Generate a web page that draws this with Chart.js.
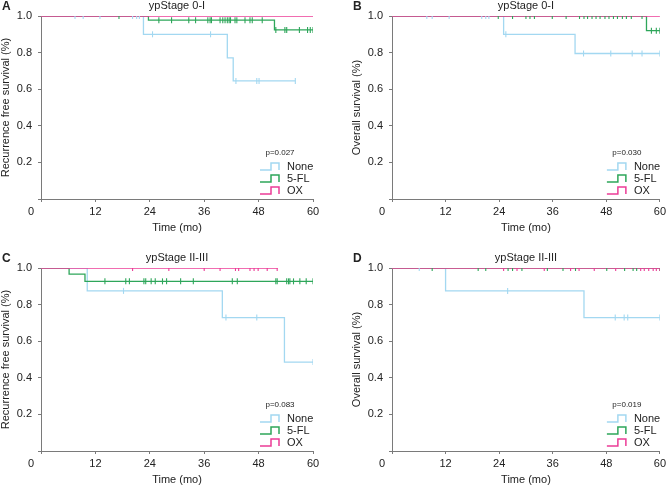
<!DOCTYPE html>
<html>
<head>
<meta charset="utf-8">
<script src="https://cdn.jsdelivr.net/npm/chart.js@4.4.1/dist/chart.umd.min.js"></script>
<style>
  html, body { margin: 0; padding: 0; background: #ffffff; }
  body { width: 669px; height: 487px; position: relative; overflow: hidden; }
  .panel { position: absolute; }
</style>
</head>
<body>
<div class="panel" style="left:0px;top:0px;"><canvas id="cA" width="340" height="235"></canvas></div>
<div class="panel" style="left:351px;top:0px;"><canvas id="cB" width="318" height="235"></canvas></div>
<div class="panel" style="left:0px;top:252px;"><canvas id="cC" width="340" height="235"></canvas></div>
<div class="panel" style="left:351px;top:252px;"><canvas id="cD" width="318" height="235"></canvas></div>
<script>
// ---------- tick labels / categories ----------
const xTicks = [0, 12, 24, 36, 48, 60];
const yTicks = [0, 0.2, 0.4, 0.6, 0.8, 1.0];
const groupNames = ['None', '5-FL', 'OX'];

// ---------- Panel A: ypStage 0-I, recurrence free survival ----------
const aNoneTime = [0, 22.6, 41.1, 42.4, 56.1];
const aNoneSurv = [1, 0.9, 0.771, 0.645, 0.645];
const aNoneCens = [7.5, 9.3, 13.0, 20.2, 21.1, 21.7, 24.6, 37.4, 43.0, 47.6, 48.1, 56.1];
const aFLTime = [0, 23.7, 51.5, 60];
const aFLSurv = [1, 0.977, 0.924, 0.924];
const aFLCens = [17.2, 26.0, 28.8, 32.6, 34.1, 36.8, 37.3, 37.6, 39.5, 40.1, 40.6, 41.1, 41.5, 41.8, 42.8, 43.2, 45.0, 46.1, 46.6, 48.8, 51.8, 53.8, 54.2, 57.0, 58.8, 59.4, 60];
const aOXTime = [0, 60];
const aOXSurv = [1, 1];
const aOXCens = [];
const aP = 'p=0.027';

// ---------- Panel B: ypStage 0-I, overall survival ----------
const bNoneTime = [0, 25.0, 41.0, 60];
const bNoneSurv = [1, 0.9, 0.795, 0.795];
const bNoneCens = [7.8, 9.0, 12.8, 20.1, 21.0, 21.7, 25.5, 42.9, 49.0, 53.8, 56.0, 60];
const bFLTime = [0, 57.0, 60];
const bFLSurv = [1, 0.92, 0.92];
const bFLCens = [23.8, 27.0, 30.0, 30.9, 31.9, 35.9, 39.0, 42.0, 43.0, 43.8, 44.8, 45.7, 46.6, 47.7, 48.6, 49.6, 50.5, 51.6, 52.5, 53.6, 56.0, 58.1, 59.2, 60];
const bOXTime = [0, 60];
const bOXSurv = [1, 1];
const bOXCens = [];
const bP = 'p=0.030';

// ---------- Panel C: ypStage II-III, recurrence free survival ----------
const cNoneTime = [0, 10.2, 40.0, 53.7, 60];
const cNoneSurv = [1, 0.875, 0.729, 0.486, 0.486];
const cNoneCens = [18.2, 40.8, 47.6, 60];
const cFLTime = [0, 6.2, 9.7, 60];
const cFLSurv = [1, 0.967, 0.927, 0.927];
const cFLCens = [14.1, 18.7, 19.5, 22.7, 23.1, 24.3, 25.2, 26.8, 27.7, 30.8, 33.6, 42.2, 43.3, 51.8, 52.1, 54.2, 54.6, 54.9, 55.7, 57.1, 58.5, 60];
const cOXTime = [0, 52.2];
const cOXSurv = [1, 1];
const cOXCens = [20.2, 28.2, 36.0, 39.5, 42.9, 43.6, 46.1, 47.0, 47.9, 49.9, 52.1];
const cP = 'p=0.083';

// ---------- Panel D: ypStage II-III, overall survival ----------
const dNoneTime = [0, 12.0, 43.0, 60];
const dNoneSurv = [1, 0.875, 0.729, 0.729];
const dNoneCens = [6.1, 25.9, 50.0, 52.0, 52.8, 60];
const dFLTime = [0, 60];
const dFLSurv = [1, 1];
const dFLCens = [9.0, 19.3, 21.0, 26.0, 27.0, 29.1, 34.8, 38.3, 41.1, 48.1, 52.1, 54.0, 54.8, 60];
const dOXTime = [0, 60];
const dOXSurv = [1, 1];
const dOXCens = [25.0, 28.0, 34.1, 40.0, 41.9, 45.3, 50.1, 55.7, 56.5, 57.5, 58.5, 59.2, 60];
const dP = 'p=0.019';

// ---------- styling ----------
const FONT = '"Liberation Sans", Arial, Helvetica, sans-serif';
const colNone = '#a3d8f1';
const colFL = '#2ea65a';
const colOX = '#ec3c97';
const axisCol = '#7a7a7a';
const textCol = '#222222';

function curvePts(t, s) { return t.map((x, i) => ({x: x, y: s[i]})); }
function survAt(t, s, x) {
  let v = s[0];
  for (let i = 0; i < t.length; i++) { if (t[i] <= x + 1e-9) v = s[i]; }
  return v;
}
function censPts(cens, t, s) { return cens.map(x => ({x: x, y: survAt(t, s, x)})); }

function lineDs(label, t, s, color, order) {
  return { type: 'line', label: label, data: curvePts(t, s), borderColor: color, backgroundColor: color,
    borderWidth: 1.3, stepped: 'before', pointRadius: 0, fill: false, order: order };
}
function censDs(label, cens, t, s, color, order) {
  return { type: 'scatter', label: label + ' censored', data: censPts(cens, t, s), borderColor: color,
    backgroundColor: color, pointStyle: 'line', rotation: 90, pointRadius: 3, pointBorderWidth: 1.1,
    showLine: false, order: order };
}

const decoPlugin = {
  id: 'deco',
  afterDraw(chart, args, o) {
    const ctx = chart.ctx, ca = chart.chartArea;
    ctx.save();
    ctx.fillStyle = textCol;
    ctx.textBaseline = 'middle';
    // panel letter
    ctx.textAlign = 'left';
    ctx.font = 'bold 12px ' + FONT;
    ctx.fillText(o.letter, 2, 7);
    // title
    ctx.textAlign = 'center';
    ctx.font = '11px ' + FONT;
    ctx.fillText(o.title, (ca.left + ca.right) / 2, 6);
    // x zero label
    ctx.font = '11px ' + FONT;
    ctx.fillText(String(xTicks[0]), ca.left - 10, ca.bottom + 13);
    // legend
    ctx.font = '8px ' + FONT;
    ctx.fillText(o.p, ca.right - 33, ca.bottom - 46);
    const cols = [colNone, colFL, colOX];
    const ys = [ca.bottom - 32, ca.bottom - 20, ca.bottom - 8];
    for (let i = 0; i < 3; i++) {
      const x0 = ca.right - 53, yb = ys[i] + 3, yt = ys[i] - 4;
      ctx.strokeStyle = cols[i];
      ctx.lineWidth = 1.5;
      ctx.beginPath();
      ctx.moveTo(x0, yb); ctx.lineTo(x0 + 11, yb); ctx.lineTo(x0 + 11, yt);
      ctx.lineTo(x0 + 19, yt); ctx.lineTo(x0 + 19, yb);
      ctx.stroke();
      ctx.textAlign = 'left';
      ctx.font = '11px ' + FONT;
      ctx.fillStyle = textCol;
      ctx.fillText(groupNames[i], ca.right - 26, ys[i]);
    }
    ctx.restore();
  }
};

function makeChart(id, letter, title, yTitle, p, rightPad, d) {
  const datasets = [
    censDs('OX', d.oxC, d.oxT, d.oxS, colOX, 0),
    censDs('5-FL', d.flC, d.flT, d.flS, colFL, 1),
    censDs('None', d.noC, d.noT, d.noS, colNone, 2),
    lineDs('OX', d.oxT, d.oxS, colOX, 3),
    lineDs('5-FL', d.flT, d.flS, colFL, 4),
    lineDs('None', d.noT, d.noS, colNone, 5)
  ];
  return new Chart(document.getElementById(id), {
    type: 'line',
    data: { datasets: datasets },
    plugins: [decoPlugin],
    options: {
      responsive: false, animation: false, devicePixelRatio: 1,
      layout: { padding: { left: 0, right: rightPad, top: 16, bottom: 0 } },
      plugins: {
        legend: { display: false }, tooltip: { enabled: false },
        deco: { letter: letter, title: title, p: p }
      },
      scales: {
        x: {
          type: 'linear', min: xTicks[0], max: xTicks[xTicks.length - 1],
          afterBuildTicks: (s) => { s.ticks = xTicks.map(v => ({value: v})); },
          afterFit: (s) => { s.height = 36; },
          grid: { drawOnChartArea: false, drawTicks: true, tickLength: 3, color: axisCol, tickWidth: 1 },
          border: { color: axisCol, width: 1 },
          ticks: { padding: 3, color: textCol, font: { family: FONT, size: 11 }, maxRotation: 0,
            callback: (v) => (v === 0 ? '' : String(v)) },
          title: { display: true, text: 'Time (mo)', color: textCol, padding: { top: 0, bottom: 1.5 },
            font: { family: FONT, size: 11, lineHeight: 1 } }
        },
        y: {
          type: 'linear', min: 0, max: 1,
          afterBuildTicks: (s) => { s.ticks = yTicks.map(v => ({value: v})); },
          afterFit: (s) => { s.width = 41; },
          grid: { drawOnChartArea: false, drawTicks: true, tickLength: 3, color: axisCol, tickWidth: 1 },
          border: { color: axisCol, width: 1 },
          ticks: { padding: 6, color: textCol, font: { family: FONT, size: 11 },
            callback: (v) => (v === 0 ? '' : Number(v).toFixed(1)) },
          title: { display: true, text: yTitle, color: textCol, padding: { top: 0, bottom: 0 },
            font: { family: FONT, size: 11, lineHeight: 1 } }
        }
      }
    }
  });
}

makeChart('cA', 'A', 'ypStage 0-I', 'Recurrence free survival (%)', aP, 27,
  { noT: aNoneTime, noS: aNoneSurv, noC: aNoneCens, flT: aFLTime, flS: aFLSurv, flC: aFLCens, oxT: aOXTime, oxS: aOXSurv, oxC: aOXCens });
makeChart('cB', 'B', 'ypStage 0-I', 'Overall survival (%)', bP, 7,
  { noT: bNoneTime, noS: bNoneSurv, noC: bNoneCens, flT: bFLTime, flS: bFLSurv, flC: bFLCens, oxT: bOXTime, oxS: bOXSurv, oxC: bOXCens });
makeChart('cC', 'C', 'ypStage II-III', 'Recurrence free survival (%)', cP, 27,
  { noT: cNoneTime, noS: cNoneSurv, noC: cNoneCens, flT: cFLTime, flS: cFLSurv, flC: cFLCens, oxT: cOXTime, oxS: cOXSurv, oxC: cOXCens });
makeChart('cD', 'D', 'ypStage II-III', 'Overall survival (%)', dP, 7,
  { noT: dNoneTime, noS: dNoneSurv, noC: dNoneCens, flT: dFLTime, flS: dFLSurv, flC: dFLCens, oxT: dOXTime, oxS: dOXSurv, oxC: dOXCens });
</script>
</body>
</html>
